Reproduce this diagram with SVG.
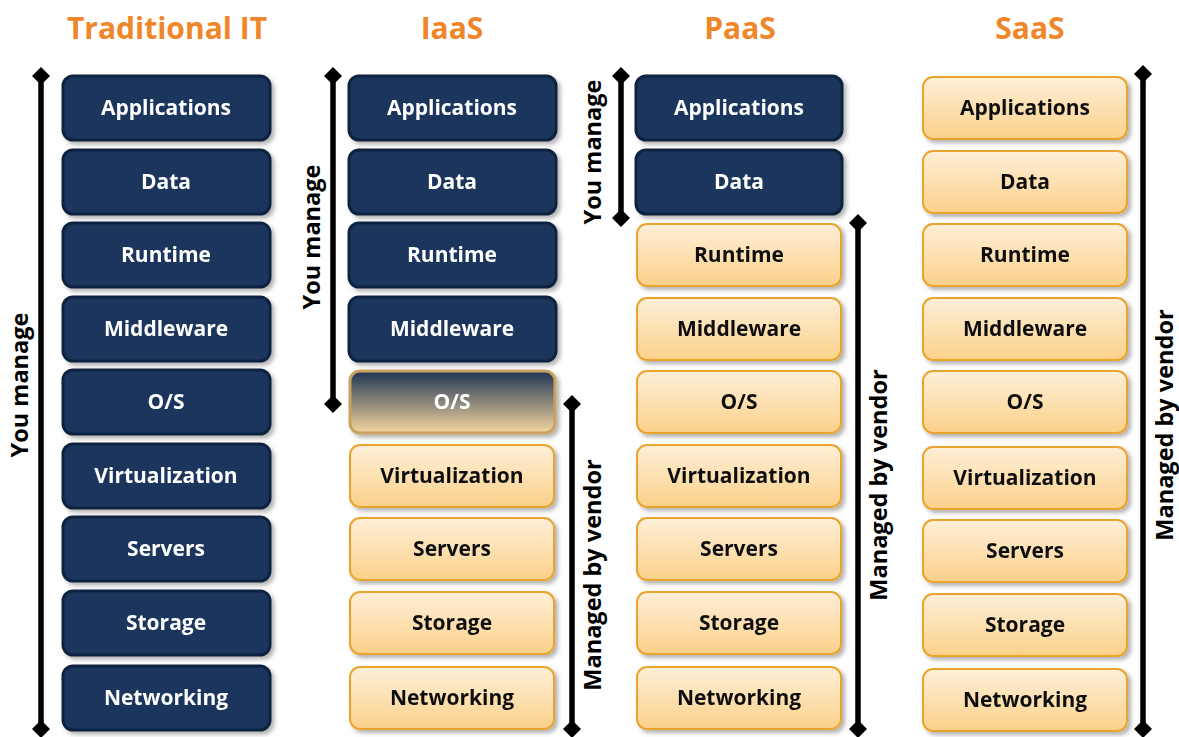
<svg xmlns="http://www.w3.org/2000/svg" width="1179" height="737" viewBox="0 0 1179 737">
<style>
.hdr{font-family:"Open Sans",sans-serif;font-weight:bold;font-size:30px;fill:#f0862a;text-anchor:middle}
.dk rect{fill:#1b365d;stroke:#10243f;stroke-width:3}
.lt rect{fill:url(#lg);stroke:#eaa42e;stroke-width:2}
.dk text{fill:#ffffff}
.lt text{fill:#111111}
text.t{font-family:"Open Sans",sans-serif;font-weight:bold;font-size:21px;text-anchor:middle}
.arr line{stroke:#000;stroke-width:5.5}
.lab{font-family:"Open Sans",sans-serif;font-weight:bold;font-size:23.5px;fill:#000;text-anchor:middle}
</style>
<defs>
<linearGradient id="lg" x1="0" y1="0" x2="0" y2="1"><stop offset="0" stop-color="#feefd8"/><stop offset="1" stop-color="#fbd18a"/></linearGradient>
<linearGradient id="og" x1="0" y1="0" x2="0" y2="1"><stop offset="0" stop-color="#1e3454"/><stop offset="1" stop-color="#f6d7a0"/></linearGradient>
<filter id="sh" x="-10%" y="-10%" width="125%" height="130%"><feDropShadow dx="3" dy="3" stdDeviation="2" flood-color="#000" flood-opacity="0.3"/></filter>
<marker id="dm" viewBox="0 0 10 10" refX="5" refY="5" markerWidth="18" markerHeight="18" markerUnits="userSpaceOnUse" orient="auto"><path d="M0 5 L5 0 L10 5 L5 10 Z" fill="#000"/></marker>
</defs>
<text class="hdr" x="167" y="39">Traditional IT</text>
<text class="hdr" x="452" y="39">IaaS</text>
<text class="hdr" x="740" y="39">PaaS</text>
<text class="hdr" x="1030" y="39">SaaS</text>

<g id="trad" class="dk" filter="url(#sh)">
<g id="t1"><rect x="63" y="76" width="207" height="64" rx="10"/><text class="t" x="166" y="115">Applications</text></g>
<g id="t2"><rect x="63" y="150" width="207" height="64" rx="10"/><text class="t" x="166" y="189">Data</text></g>
<g id="t3"><rect x="63" y="223" width="207" height="64" rx="10"/><text class="t" x="166" y="262">Runtime</text></g>
<g id="t4"><rect x="63" y="297" width="207" height="64" rx="10"/><text class="t" x="166" y="336">Middleware</text></g>
<g id="t5"><rect x="63" y="370" width="207" height="64" rx="10"/><text class="t" x="166" y="409">O/S</text></g>
<g id="t6"><rect x="63" y="444" width="207" height="64" rx="10"/><text class="t" x="166" y="483">Virtualization</text></g>
<g id="t7"><rect x="63" y="517" width="207" height="64" rx="10"/><text class="t" x="166" y="556">Servers</text></g>
<g id="t8"><rect x="63" y="591" width="207" height="64" rx="10"/><text class="t" x="166" y="630">Storage</text></g>
<g id="t9"><rect x="63" y="666" width="207" height="64" rx="10"/><text class="t" x="166" y="705">Networking</text></g>
</g>

<g id="iaas" filter="url(#sh)">
<g id="i1" class="dk"><rect x="349" y="76" width="207" height="64" rx="10"/><text class="t" x="452" y="115">Applications</text></g>
<g id="i2" class="dk"><rect x="349" y="150" width="207" height="64" rx="10"/><text class="t" x="452" y="189">Data</text></g>
<g id="i3" class="dk"><rect x="349" y="223" width="207" height="64" rx="10"/><text class="t" x="452" y="262">Runtime</text></g>
<g id="i4" class="dk"><rect x="349" y="297" width="207" height="64" rx="10"/><text class="t" x="452" y="336">Middleware</text></g>
<g id="i5"><rect x="350" y="371" width="205" height="62" rx="10" fill="url(#og)" stroke="#c9a25e" stroke-width="3"/><text class="t" x="452" y="409" fill="#ffffff">O/S</text></g>
<g id="i6" class="lt"><rect x="350" y="445" width="204" height="62" rx="10"/><text class="t" x="452" y="483">Virtualization</text></g>
<g id="i7" class="lt"><rect x="350" y="518" width="204" height="62" rx="10"/><text class="t" x="452" y="556">Servers</text></g>
<g id="i8" class="lt"><rect x="350" y="592" width="204" height="62" rx="10"/><text class="t" x="452" y="630">Storage</text></g>
<g id="i9" class="lt"><rect x="350" y="667" width="204" height="62" rx="10"/><text class="t" x="452" y="705">Networking</text></g>
</g>

<g id="paas" filter="url(#sh)">
<g id="p1" class="dk"><rect x="636" y="76" width="206" height="64" rx="10"/><text class="t" x="739" y="115">Applications</text></g>
<g id="p2" class="dk"><rect x="636" y="150" width="206" height="64" rx="10"/><text class="t" x="739" y="189">Data</text></g>
<g id="p3" class="lt"><rect x="637" y="224" width="204" height="62" rx="10"/><text class="t" x="739" y="262">Runtime</text></g>
<g id="p4" class="lt"><rect x="637" y="298" width="204" height="62" rx="10"/><text class="t" x="739" y="336">Middleware</text></g>
<g id="p5" class="lt"><rect x="637" y="371" width="204" height="62" rx="10"/><text class="t" x="739" y="409">O/S</text></g>
<g id="p6" class="lt"><rect x="637" y="445" width="204" height="62" rx="10"/><text class="t" x="739" y="483">Virtualization</text></g>
<g id="p7" class="lt"><rect x="637" y="518" width="204" height="62" rx="10"/><text class="t" x="739" y="556">Servers</text></g>
<g id="p8" class="lt"><rect x="637" y="592" width="204" height="62" rx="10"/><text class="t" x="739" y="630">Storage</text></g>
<g id="p9" class="lt"><rect x="637" y="667" width="204" height="62" rx="10"/><text class="t" x="739" y="705">Networking</text></g>
</g>

<g id="saas" class="lt" filter="url(#sh)">
<g id="s1"><rect x="923" y="77" width="204" height="62" rx="10"/><text class="t" x="1025" y="115">Applications</text></g>
<g id="s2"><rect x="923" y="151" width="204" height="62" rx="10"/><text class="t" x="1025" y="189">Data</text></g>
<g id="s3"><rect x="923" y="224" width="204" height="62" rx="10"/><text class="t" x="1025" y="262">Runtime</text></g>
<g id="s4"><rect x="923" y="298" width="204" height="62" rx="10"/><text class="t" x="1025" y="336">Middleware</text></g>
<g id="s5"><rect x="923" y="371" width="204" height="62" rx="10"/><text class="t" x="1025" y="409">O/S</text></g>
<g id="s6"><rect x="923" y="447" width="204" height="62" rx="10"/><text class="t" x="1025" y="485">Virtualization</text></g>
<g id="s7"><rect x="923" y="520" width="204" height="62" rx="10"/><text class="t" x="1025" y="558">Servers</text></g>
<g id="s8"><rect x="923" y="594" width="204" height="62" rx="10"/><text class="t" x="1025" y="632">Storage</text></g>
<g id="s9"><rect x="923" y="669" width="204" height="62" rx="10"/><text class="t" x="1025" y="707">Networking</text></g>
</g>

<g id="connectors" class="arr">
<line x1="41" y1="76" x2="41" y2="729" marker-start="url(#dm)" marker-end="url(#dm)"/>
<line x1="333" y1="76" x2="333" y2="404" marker-start="url(#dm)" marker-end="url(#dm)"/>
<line x1="572" y1="404" x2="572" y2="729" marker-start="url(#dm)" marker-end="url(#dm)"/>
<line x1="621" y1="76" x2="621" y2="218" marker-start="url(#dm)" marker-end="url(#dm)"/>
<line x1="858" y1="223" x2="858" y2="729" marker-start="url(#dm)" marker-end="url(#dm)"/>
<line x1="1143" y1="74" x2="1143" y2="729" marker-start="url(#dm)" marker-end="url(#dm)"/>
</g>
<g id="labels">
<text class="lab" transform="translate(28,385) rotate(-90)">You manage</text>
<text class="lab" transform="translate(320,237) rotate(-90)">You manage</text>
<text class="lab" transform="translate(601,575) rotate(-90)">Managed by vendor</text>
<text class="lab" transform="translate(601,152) rotate(-90)">You manage</text>
<text class="lab" transform="translate(887,485) rotate(-90)">Managed by vendor</text>
<text class="lab" transform="translate(1173,425) rotate(-90)">Managed by vendor</text>
</g>
</svg>
